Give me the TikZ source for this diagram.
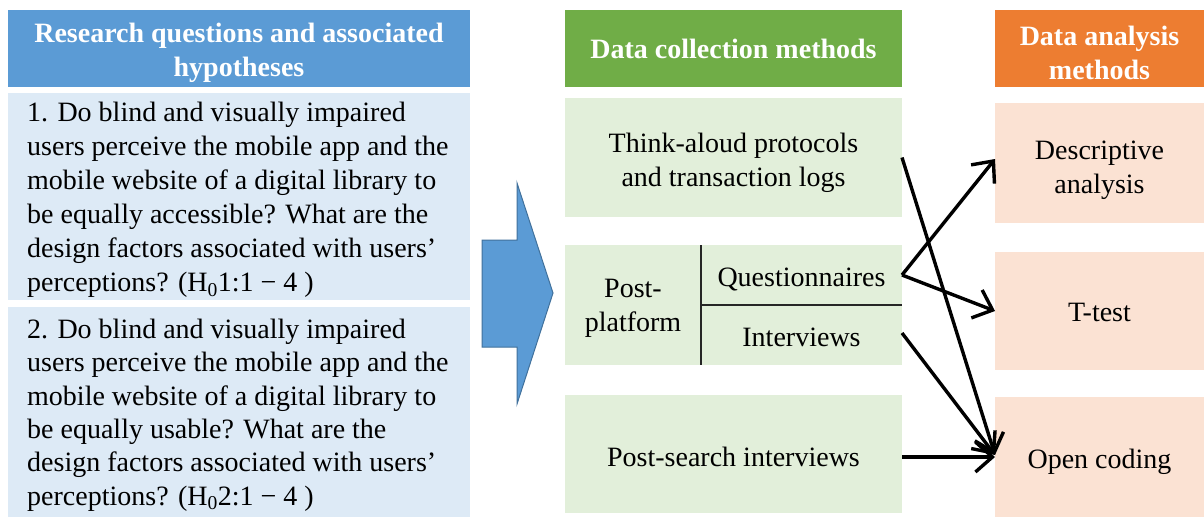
\documentclass[tikz,border=0pt]{standalone}
\usepackage{fontspec}
\setmainfont{Liberation Serif}
\usetikzlibrary{arrows.meta}
\definecolor{hblue}{HTML}{5B9BD5}
\definecolor{lblue}{HTML}{DDEAF6}
\definecolor{hgreen}{HTML}{70AD47}
\definecolor{lgreen}{HTML}{E2EFDA}
\definecolor{horange}{HTML}{ED7D31}
\definecolor{lorange}{HTML}{FBE2D3}
\definecolor{arrowedge}{HTML}{41719C}
\tikzset{
  boxat/.style={inner sep=0pt, outer sep=0pt, anchor=north west},
  hdrtext/.style={text=white, font=\fontsize{28}{34}\selectfont\bfseries, align=center},
  bodytext/.style={text=black, font=\fontsize{28}{34}\selectfont, align=center},
  lefttext/.style={text=black, font=\fontsize{28}{34}\selectfont, align=left, anchor=west, inner sep=0pt},
  conn/.style={line width=3.4pt, -{Straight Barb[length=17pt,width=30pt,line width=3.4pt]}}
}
\begin{document}
\begin{tikzpicture}[x=1pt,y=-1pt]
\useasboundingbox (0,0) rectangle (1204,517);
\fill[white] (0,0) rectangle (1204,517);
% left column
\fill[hblue] (8,10) rectangle (470,87);
\node[hdrtext] (lh) at (239,53) {Research questions and associated\\hypotheses};
\fill[lblue] (8,93) rectangle (470,300);
\node[lefttext] (q1) at (27,200) {1. Do blind and visually impaired\\users perceive the mobile app and the\\mobile website of a digital library to\\be equally accessible? What are the\\design factors associated with users’\\perceptions? (H\textsubscript{0}1:1 − 4 )};
\fill[lblue] (8,307) rectangle (470,517);
\node[lefttext, font=\fontsize{28}{33.4}\selectfont] (q2) at (27,415) {2. Do blind and visually impaired\\users perceive the mobile app and the\\mobile website of a digital library to\\be equally usable? What are the\\design factors associated with users’\\perceptions? (H\textsubscript{0}2:1 − 4 )};
% block arrow
\filldraw[fill=hblue, draw=arrowedge, line width=1pt]
  (482,240) -- (517,240) -- (517,183) -- (553,293) -- (517,404) -- (517,347) -- (482,347) -- cycle;
% middle column
\fill[hgreen] (565,10) rectangle (902,87);
\node[hdrtext] (mh) at (733.5,49) {Data collection methods};
\node[boxat, fill=lgreen, minimum width=337pt, minimum height=119pt] (think) at (565,98) {};
\node[bodytext] at ([yshift=-5pt]think.center) {Think-aloud protocols\\and transaction logs};
\node[boxat, fill=lgreen, minimum width=136pt, minimum height=120pt] (post) at (565,245) {};
\node[bodytext] at ([yshift=-3pt]post.center) {Post-\\platform};
\node[boxat, fill=lgreen, minimum width=201pt, minimum height=60pt] (quest) at (701,245) {};
\node[bodytext] at ([yshift=-4pt]quest.center) {Questionnaires};
\node[boxat, fill=lgreen, minimum width=201pt, minimum height=60pt] (interv) at (701,305) {};
\node[bodytext] at ([yshift=-2pt]interv.center) {Interviews};
\draw[line width=1.6pt, black!85] (post.north east) -- (post.south east);
\draw[line width=1.2pt, black!85] (quest.south west) -- (quest.south east);
\node[boxat, fill=lgreen, minimum width=337pt, minimum height=118pt] (search) at (565,395) {};
\node[bodytext] at ([yshift=-3pt]search.center) {Post-search interviews};
% right column
\fill[horange] (995,10) rectangle (1204,87);
\node[hdrtext] (rh) at (1099.5,53) {Data analysis\\methods};
\node[boxat, fill=lorange, minimum width=209pt, minimum height=120pt] (desc) at (995,103) {};
\node[bodytext] at ([yshift=-7pt]desc.center) {Descriptive\\analysis};
\node[boxat, fill=lorange, minimum width=209pt, minimum height=118pt] (ttest) at (995,252) {};
\node[bodytext] at ([yshift=-1pt]ttest.center) {T-test};
\node[boxat, fill=lorange, minimum width=209pt, minimum height=120pt] (open) at (995,397) {};
\node[bodytext] at ([yshift=-5pt]open.center) {Open coding};
% connectors
\coordinate (openin) at (995,455);
\coordinate (searchout) at (902,457);
\draw[conn] (think.east) -- (openin);
\draw[conn] (quest.east) -- ([yshift=4pt]desc.west);
\draw[conn] (quest.east) -- (ttest.west);
\draw[conn] ([yshift=2pt]interv.east) -- (openin);
\draw[conn] (searchout) -- (openin |- searchout);
\end{tikzpicture}
\end{document}
